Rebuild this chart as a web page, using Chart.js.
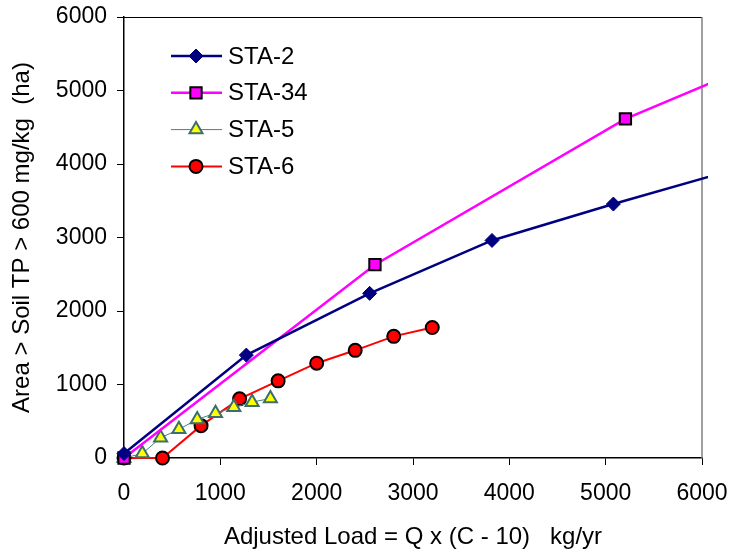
<!DOCTYPE html>
<html>
<head>
<meta charset="utf-8">
<script src="https://cdn.jsdelivr.net/npm/chart.js@4.4.1/dist/chart.umd.min.js"></script>
<style>
  html, body { margin: 0; padding: 0; background: #fff; }
</style>
</head>
<body>
<canvas id="areaChart" width="735" height="552"></canvas>
<script>
// series values (x = adjusted load kg/yr, y = area ha)
const seriesNames = ['STA-2', 'STA-34', 'STA-5', 'STA-6'];
const sta2X = [0, 1270, 2550, 3820, 5080, 6350];
const sta2Y = [60, 1400, 2240, 2960, 3455, 3930];
const sta34X = [0, 2605, 5205, 7810];
const sta34Y = [0, 2630, 4615, 6050];
const sta5X = [0, 190, 380, 570, 760, 950, 1140, 1330, 1520];
const sta5Y = [0, 60, 275, 390, 525, 610, 690, 760, 810];
const sta6X = [0, 400, 800, 1200, 1600, 2000, 2400, 2800, 3200];
const sta6Y = [0, 0, 440, 805, 1050, 1290, 1465, 1655, 1775];
const xTicks = [0, 1000, 2000, 3000, 4000, 5000, 6000];
const yTicks = [0, 1000, 2000, 3000, 4000, 5000, 6000];

const fonte = "'Liberation Sans', Arial, sans-serif";

function pontos(xs, ys) {
  return xs.map((x, i) => ({ x: x, y: ys[i] }));
}

const recorte = { left: 12, top: 0, right: 6, bottom: 12 };

const datasets = [
  {
    label: seriesNames[0], data: pontos(sta2X, sta2Y),
    borderColor: '#000080', borderWidth: 2.5,
    pointStyle: 'rectRot', pointRadius: 7,
    pointBackgroundColor: '#000080', pointBorderColor: '#000080', pointBorderWidth: 1
  },
  {
    label: seriesNames[1], data: pontos(sta34X, sta34Y),
    borderColor: '#FF00FF', borderWidth: 2.5,
    pointStyle: 'rect', pointRadius: 8,
    pointBackgroundColor: '#FF00FF', pointBorderColor: '#000000', pointBorderWidth: 2
  },
  {
    label: seriesNames[2], data: pontos(sta5X, sta5Y),
    borderColor: '#4A7F7F', borderWidth: 1,
    pointStyle: 'triangle', pointRadius: 7.5,
    pointBackgroundColor: '#FFFF00', pointBorderColor: '#3C6E6E', pointBorderWidth: 2
  },
  {
    label: seriesNames[3], data: pontos(sta6X, sta6Y),
    borderColor: '#FF0000', borderWidth: 2,
    pointStyle: 'circle', pointRadius: 6.5,
    pointBackgroundColor: '#FF0000', pointBorderColor: '#000000', pointBorderWidth: 2
  }
];
datasets.forEach(ds => { ds.showLine = true; ds.fill = false; ds.tension = 0; ds.clip = recorte; });

// top and right frame lines of the plot area
const moldura = {
  id: 'moldura',
  beforeDatasetsDraw(chart) {
    const { ctx, chartArea: a } = chart;
    ctx.save();
    ctx.lineWidth = 1;
    ctx.strokeStyle = '#000';
    ctx.beginPath(); ctx.moveTo(a.left, a.top + 0.5); ctx.lineTo(a.right, a.top + 0.5); ctx.stroke();
    ctx.strokeStyle = '#808080';
    ctx.lineWidth = 1.5;
    ctx.beginPath(); ctx.moveTo(a.right, a.top); ctx.lineTo(a.right, a.bottom); ctx.stroke();
    ctx.restore();
  }
};

// legend with line + marker, like the spreadsheet one
const legenda = {
  id: 'legenda',
  afterDraw(chart) {
    const ctx = chart.ctx;
    ctx.save();
    chart.data.datasets.forEach((ds, i) => {
      const y = 56 + i * 36.8;
      ctx.strokeStyle = ds.borderColor;
      ctx.lineWidth = ds.borderWidth;
      ctx.beginPath(); ctx.moveTo(171, y); ctx.lineTo(222, y); ctx.stroke();
      ctx.fillStyle = ds.pointBackgroundColor;
      ctx.strokeStyle = ds.pointBorderColor;
      ctx.lineWidth = ds.pointBorderWidth;
      Chart.helpers.drawPoint(ctx, {
        pointStyle: ds.pointStyle, radius: ds.pointRadius,
        borderWidth: ds.pointBorderWidth, rotation: 0
      }, 196, y);
      ctx.fillStyle = '#000';
      ctx.font = '24px ' + fonte;
      ctx.textBaseline = 'middle';
      ctx.textAlign = 'left';
      ctx.fillText(ds.label, 228, y + 1);
    });
    ctx.restore();
  }
};

const ctx = document.getElementById('areaChart').getContext('2d');
const areaChart = new Chart(ctx, {
  type: 'scatter',
  data: { datasets: datasets },
  plugins: [moldura, legenda],
  options: {
    responsive: false,
    animation: false,
    devicePixelRatio: 1,
    layout: { padding: { top: 17, right: 33, left: 0, bottom: 0 } },
    plugins: { legend: { display: false }, tooltip: { enabled: false } },
    scales: {
      x: {
        type: 'linear', min: 0, max: 6000,
        afterFit: s => { s.height = 94; s.paddingLeft = 0; s.paddingRight = 0; },
        afterBuildTicks: s => { s.ticks = xTicks.map(v => ({ value: v })); },
        grid: { drawOnChartArea: false, drawTicks: true, tickLength: 7, color: '#000', lineWidth: 1 },
        border: { color: '#000', width: 1.5 },
        ticks: { color: '#000', font: { family: fonte, size: 23 }, padding: 15, maxRotation: 0, callback: v => String(v) },
        title: {
          display: true, text: 'Adjusted Load = Q x (C - 10)   kg/yr',
          color: '#000', font: { family: fonte, size: 24 }, padding: { top: 0, bottom: 0 }
        }
      },
      y: {
        type: 'linear', min: 0, max: 6000,
        afterFit: s => { s.width = 124; s.paddingTop = 0; s.paddingBottom = 0; },
        afterBuildTicks: s => { s.ticks = yTicks.map(v => ({ value: v })); },
        grid: { drawOnChartArea: false, drawTicks: true, tickLength: 7, color: '#000', lineWidth: 1 },
        border: { color: '#000', width: 1.5 },
        ticks: { color: '#000', font: { family: fonte, size: 23 }, padding: 10, callback: v => String(v) },
        title: {
          display: true, text: 'Area > Soil TP > 600 mg/kg  (ha)',
          color: '#000', font: { family: fonte, size: 24 }, padding: { top: 8, bottom: 0 }
        }
      }
    }
  }
});
</script>
</body>
</html>
